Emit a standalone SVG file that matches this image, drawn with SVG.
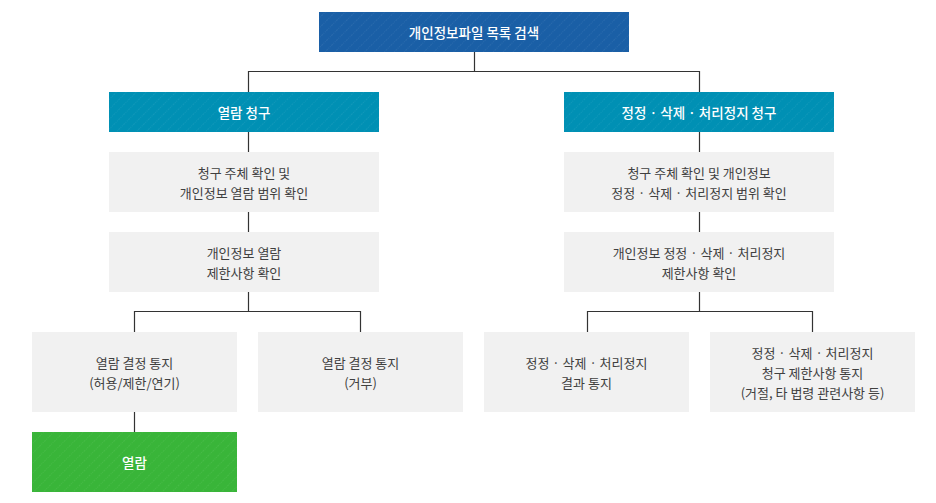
<svg xmlns="http://www.w3.org/2000/svg" width="936" height="503" viewBox="0 0 936 503">
<style>
.t{font-family:"Noto Sans CJK KR","Noto Sans",sans-serif;font-size:13px;text-anchor:middle;dominant-baseline:central}
.w{fill:#ffffff;font-weight:500;font-size:13.5px}
.d{fill:#404040}
.g{fill:#f1f1f1}
.ln{stroke:#333333;stroke-width:1.2;fill:none}
</style>
<defs>
<pattern id="st" width="7" height="7" patternUnits="userSpaceOnUse" patternTransform="rotate(45)">
<line x1="0" y1="0" x2="0" y2="7" stroke="#ffffff" stroke-width="1" stroke-opacity="0.14" stroke-dasharray="1 1"/>
</pattern>
</defs>
<g id="connectors">
<path class="ln" d="M474.5 52V71.5M248.5 71.5H699.5M248.5 71V92M699.5 71V92"/>
<path class="ln" d="M248.5 132V152M248.5 212V232M248.5 292V311.5M134.5 311.5H360.5M134.5 311V332M360.5 311V332M134.5 412V432"/>
<path class="ln" d="M699.5 132V152M699.5 212V232M699.5 292V311.5M587.5 311.5H812.5M587.5 311V332M812.5 311V332"/>
</g>
<g id="n-top">
<rect x="319" y="12" width="310" height="40" fill="#1a5fa6"/>
<rect x="319" y="12" width="310" height="40" fill="url(#st)"/>
<text class="t w" x="474" y="32">개인정보파일 목록 검색</text>
</g>
<g id="n-req1">
<rect x="109" y="92" width="270" height="40" fill="#0090b4"/>
<rect x="109" y="92" width="270" height="40" fill="url(#st)"/>
<text class="t w" x="244" y="112">열람 청구</text>
</g>
<g id="n-req2">
<rect x="564" y="92" width="270" height="40" fill="#0090b4"/>
<rect x="564" y="92" width="270" height="40" fill="url(#st)"/>
<text class="t w" x="699" y="112">정정 · 삭제 · 처리정지 청구</text>
</g>
<g id="n-l1">
<rect class="g" x="109" y="152" width="270" height="60"/>
<text class="t d" x="244" y="172">청구 주체 확인 및</text>
<text class="t d" x="244" y="192">개인정보 열람 범위 확인</text>
</g>
<g id="n-l2">
<rect class="g" x="109" y="232" width="270" height="60"/>
<text class="t d" x="244" y="252">개인정보 열람</text>
<text class="t d" x="244" y="272">제한사항 확인</text>
</g>
<g id="n-r1">
<rect class="g" x="564" y="152" width="270" height="60"/>
<text class="t d" x="699" y="172">청구 주체 확인 및 개인정보</text>
<text class="t d" x="699" y="192">정정 · 삭제 · 처리정지 범위 확인</text>
</g>
<g id="n-r2">
<rect class="g" x="564" y="232" width="270" height="60"/>
<text class="t d" x="699" y="252">개인정보 정정 · 삭제 · 처리정지</text>
<text class="t d" x="699" y="272">제한사항 확인</text>
</g>
<g id="n-ll">
<rect class="g" x="32" y="332" width="205" height="80"/>
<text class="t d" x="134.5" y="362">열람 결정 통지</text>
<text class="t d" x="134.5" y="382">(허용/제한/연기)</text>
</g>
<g id="n-lr">
<rect class="g" x="258" y="332" width="205" height="80"/>
<text class="t d" x="360.5" y="362">열람 결정 통지</text>
<text class="t d" x="360.5" y="382">(거부)</text>
</g>
<g id="n-rl">
<rect class="g" x="484" y="332" width="205" height="80"/>
<text class="t d" x="586.5" y="362">정정 · 삭제 · 처리정지</text>
<text class="t d" x="586.5" y="382">결과 통지</text>
</g>
<g id="n-rr">
<rect class="g" x="710" y="332" width="205" height="80"/>
<text class="t d" x="812.5" y="352">정정 · 삭제 · 처리정지</text>
<text class="t d" x="812.5" y="372">청구 제한사항 통지</text>
<text class="t d" x="812.5" y="392">(거절, 타 법령 관련사항 등)</text>
</g>
<g id="n-view">
<rect x="32" y="432" width="205" height="60" fill="#39b539"/>
<rect x="32" y="432" width="205" height="60" fill="url(#st)"/>
<text class="t w" x="134.5" y="462">열람</text>
</g>
</svg>
